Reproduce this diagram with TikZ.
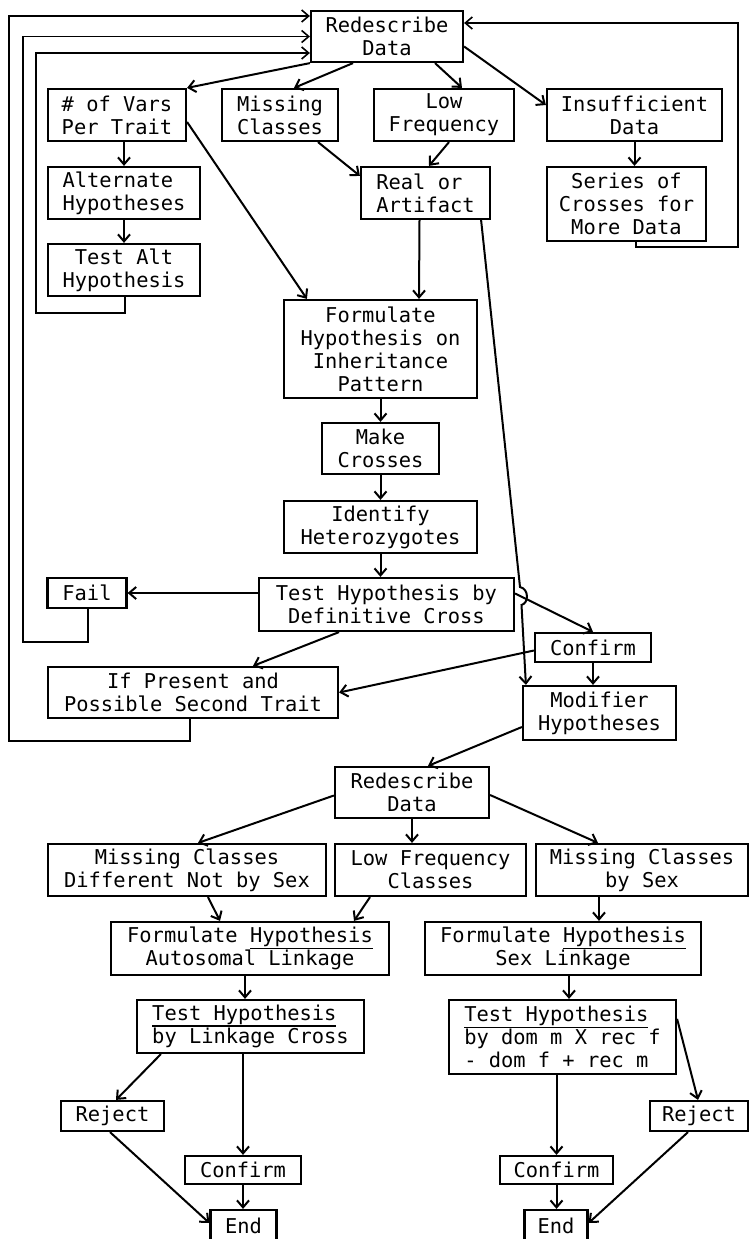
\documentclass[tikz,border=0pt]{standalone}
\usepackage{fontspec}
\newfontfamily\boxfont{DejaVu Sans Mono}
\usetikzlibrary{%
    arrows.meta,
    calc
}
\newcommand\typeline[1]{\setbox0=\hbox{#1}\rlap{\rule[-6.5pt]{\wd0}{1.6pt}}\box0}

\begin{document}
\begin{tikzpicture}[x=1pt, y=-1pt,
    box/.style={draw, line width=2.2pt, inner sep=0pt, align=center,
                font=\boxfont\fontsize{20.4pt}{23pt}\selectfont},
    sz/.style 2 args={minimum width=#1pt, minimum height=#2pt},
    arr/.style={line width=2pt, -{Straight Barb[length=7pt,width=12pt]}},
    back/.style={line width=1.6pt, -{Straight Barb[length=7pt,width=12pt]}}
    ]
    \useasboundingbox (0,0) rectangle (749,1239);

    % first pass
    \node[box, sz={152}{51}] (rd1) at (387,36.5) {Redescribe\\Data};
    \node[box, sz={138}{52}] (vars) at (117,115) {\# of Vars\\Per Trait};
    \node[box, sz={116}{52}] (mc1) at (280,115) {Missing\\Classes};
    \node[box, sz={140}{52}] (lf1) at (444,115) {Low\\Frequency};
    \node[box, sz={175}{52}] (insuf) at (634.5,115) {Insufficient\\Data};
    \node[box, sz={152}{52}, align=left] (alt) at (124,193) {Alternate\\Hypotheses};
    \node[box, sz={129}{52}, align=left] (real) at (425.5,193) {Real or\\Artifact};
    \node[box, sz={159}{74}] (series) at (626.5,204) {Series of\\Crosses for\\More Data};
    \node[box, sz={152}{52}] (testalt) at (124,270) {Test Alt\\Hypothesis};
    \node[box, sz={193}{98}] (form1) at (380.5,349) {Formulate\\Hypothesis on\\Inheritance\\Pattern};
    \node[box, sz={117}{51}] (make) at (380.5,448.5) {Make\\Crosses};
    \node[box, sz={193}{52}] (ident) at (380.5,527) {Identify\\Heterozygotes};
    \node[box, sz={255}{53}] (testdef) at (386.5,604.5) {Test Hypothesis by\\Definitive Cross};
    \node[box, sz={79}{30}] (fail) at (87,593) {Fail};
    \node[box, sz={116}{29}] (conf1) at (593,647.5) {Confirm};
    \node[box, sz={290}{51}] (second) at (193,692.5) {If Present and\\Possible Second Trait};
    \node[box, sz={153}{54}] (modif) at (599.5,713) {Modifier\\Hypotheses};

    % second pass
    \node[box, sz={154}{51}] (rd2) at (412,792.5) {Redescribe\\Data};
    \node[box, sz={278}{52}] (mcd) at (187,870) {Missing Classes\\Different Not by Sex};
    \node[box, sz={191}{52}] (lfc) at (430.5,870) {Low Frequency\\Classes};
    \node[box, sz={212}{52}] (mcs) at (642,870) {Missing Classes\\by Sex};
    \node[box, sz={278}{53}] (forma) at (250,948.5) {Formulate \typeline{Hypothesis}\\Autosomal Linkage};
    \node[box, sz={276}{53}] (forms) at (563,948.5) {Formulate \typeline{Hypothesis}\\Sex Linkage};
    \node[box, sz={227}{53}, align=left] (testl) at (250.5,1026.5) {\typeline{Test Hypothesis}\\by Linkage Cross};
    \node[box, sz={227}{74}, align=left] (testd) at (562.5,1037) {\typeline{Test Hypothesis}\\by dom m X rec f\\- dom f + rec m};
    \node[box, sz={103}{30}] (rejl) at (112.5,1116) {Reject};
    \node[box, sz={98}{30}] (rejr) at (699,1116) {Reject};
    \node[box, sz={116}{28}] (confl) at (243,1170) {Confirm};
    \node[box, sz={113}{28}] (confr) at (556.5,1170) {Confirm};
    \node[box, sz={66}{32}] (endl) at (243.5,1226) {End};
    \node[box, sz={63}{32}] (endr) at (556,1226) {End};

    % slanted arrows, first pass
    \draw[arr] (rd1.south west) -- (vars.north east);
    \draw[arr] ([xshift=-34pt]rd1.south) -- ([xshift=14pt]mc1.north);
    \draw[arr] ([xshift=48pt]rd1.south) -- ([xshift=18pt]lf1.north);
    \draw[arr] ([yshift=-10pt]rd1.east) -- ([yshift=10pt]insuf.west);
    \draw[arr] ([yshift=-7pt]vars.east) -- ([xshift=24pt]form1.north west);
    \draw[arr] ([xshift=38pt]mc1.south) -- ([yshift=-10pt]real.north west);
    \draw[arr] ([xshift=5pt]lf1.south) -- ([xshift=3.5pt]real.north);
    \draw[arr] ([xshift=-6pt]real.south) -- ([xshift=38.5pt]form1.north);
    \draw[arr] ([xshift=-10pt]real.south east) -- (520,587)
        .. controls (529,589) and (529,603) .. (521.5,605)
        -- ([xshift=4pt]modif.north west);
    \draw[arr] (testdef.west |- fail.east) -- (fail.east);
    \draw[arr] ([yshift=11pt]testdef.east) -- (conf1.north);
    \draw[arr] ([xshift=-47.5pt]testdef.south) -- ([xshift=60pt]second.north);
    \draw[arr] ([yshift=-3pt]conf1.west) -- (second.east);
    \draw[arr] ([yshift=-14pt]modif.west) -- ([xshift=16pt]rd2.north);

    % slanted arrows, second pass
    \draw[arr] ([yshift=-3pt]rd2.west) -- ([xshift=11pt]mcd.north);
    \draw[arr] ([yshift=-2.5pt]rd2.east) -- ([xshift=-44pt]mcs.north);
    \draw[arr] ([xshift=21pt]mcd.south) -- ([xshift=-30pt]forma.north);
    \draw[arr] ([xshift=-60.5pt]lfc.south) -- ([xshift=104pt]forma.north);
    \draw[arr] ([xshift=-43pt]mcs.south) -- ([xshift=36pt]forms.north);
    \draw[arr] ([xshift=-5pt]forma.south) -- ([xshift=-5.5pt]testl.north);
    \draw[arr] ([xshift=6pt]forms.south) -- ([xshift=6.5pt]testd.north);
    \draw[arr] ([xshift=25pt]testl.south west) -- ([xshift=3.5pt]rejl.north);
    \draw[arr] ([yshift=-20pt]testd.north east) -- ([xshift=-1pt]rejr.north);
    \draw[arr] ([xshift=-2.5pt]rejl.south) -- ([yshift=3pt]endl.west);
    \draw[arr] ([xshift=-11pt]rejr.south) -- ([yshift=3pt]endr.east);

    % straight down
    \foreach \Source/\Target in {%
        alt.south/testalt.north,
        insuf.south/series.north,
        form1.south/make.north,
        make.south/ident.north,
        ident.south/testdef.north,
        conf1.south/modif.north,
        rd2.south/lfc.north,
        confl.south/endl.north,
        confr.south/endr.north%
        }
        \draw[arr] (\Source) -- (\Source |- \Target);
    \foreach \Source/\Target in {%
        vars.south/alt.north,
        testl.south/confl.north,
        testd.south/confr.north%
        }
        \draw[arr] (\Target |- \Source) -- (\Target);

    % back to Redescribe Data
    \draw[back] ([xshift=9.5pt]series.south) |- (738,247) |- ([yshift=13.5pt]rd1.east);
    \draw[back] ([xshift=-3pt]second.south) |- (9,741) |- ([yshift=20.5pt]rd1.west);
    \draw[back] ([xshift=1pt]fail.south) |- (23,642) |- (rd1.west);
    \draw[back] ([xshift=1pt]testalt.south) |- (36,313) |- ([yshift=-16.5pt]rd1.west);
\end{tikzpicture}
\end{document}
